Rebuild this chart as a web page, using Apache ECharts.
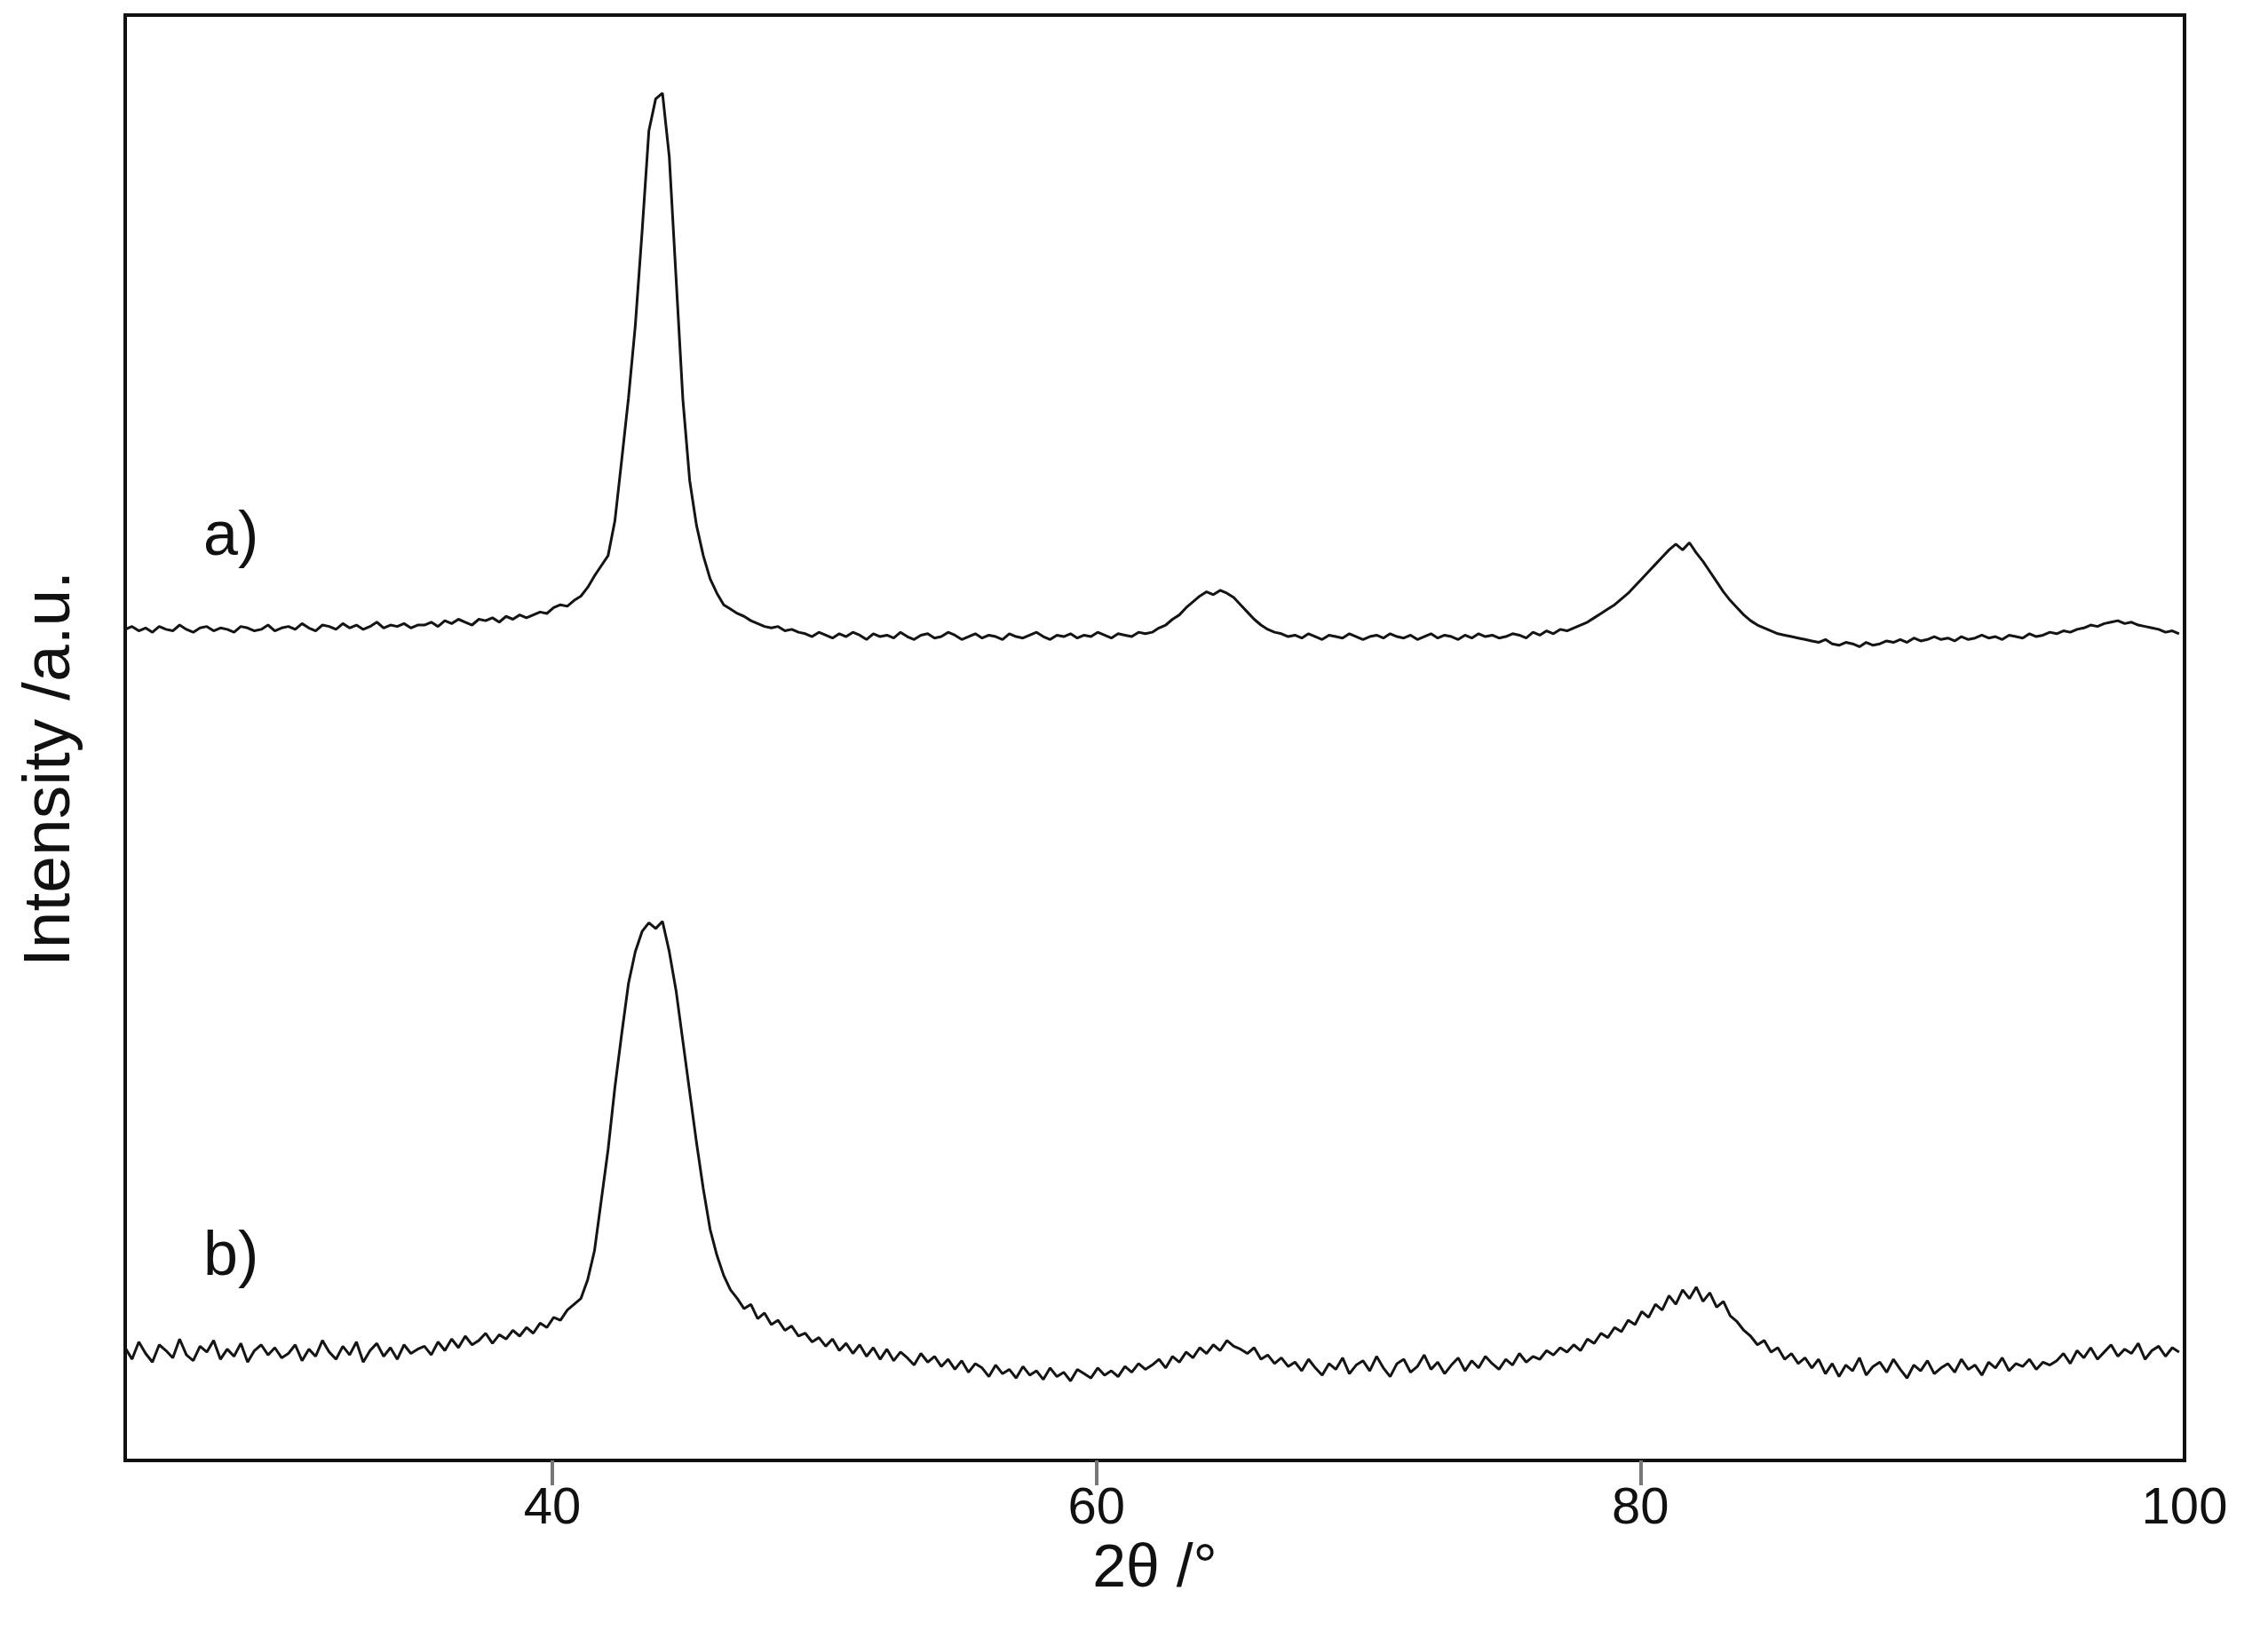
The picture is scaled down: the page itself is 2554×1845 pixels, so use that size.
<!DOCTYPE html>
<html>
<head>
<meta charset="utf-8">
<title>XRD patterns</title>
<script src="https://cdn.jsdelivr.net/npm/echarts@6/dist/echarts.min.js"></script>
<style>
    html, body { margin: 0; padding: 0; background: #fff; }
    #chart { width: 2554px; height: 1845px; }
</style>
</head>
<body>
<div id="chart"></div>
<script>
    // scan settings: 2theta start and step (degrees)
    var thetaStart = 24.3;
    var thetaStep = 0.25;

    // pattern a) intensities (arb. units)
    var intensityA = [
        575,577,574,576,573,577,575,574,578,575,573,576,577,574,576,575,573,577,576,574,575,578,574,576,
        577,575,579,576,574,578,577,575,579,576,578,575,577,580,576,578,577,579,576,578,
        578,580,577,581,579,582,580,578,582,581,583,580,584,582,585,583,
        585,587,586,590,592,591,595,598,
        604,612,619,626,650,692,735,785,850,920,942,946,902,818,734,678,647,626,610,600,592,589,586,584,581,579,577,576,577,574,575,573,
        572,570,573,571,569,572,570,573,571,568,572,570,571,569,573,570,568,571,572,569,570,573,571,568,570,572,569,571,570,568,
        572,570,569,571,573,570,568,571,570,572,569,571,570,573,571,569,572,571,570,573,572,
        573,576,578,582,585,590,594,598,601,599,602,600,597,592,587,582,578,575,573,572,570,
        571,569,572,570,568,571,570,569,572,570,568,570,571,569,572,570,569,571,568,570,572,569,571,570,568,571,569,572,570,571,
        569,570,572,571,569,573,571,574,572,575,574,
        576,578,580,583,586,589,592,596,600,605,610,615,620,625,630,634,630,635,628,622,615,608,601,595,590,585,581,578,576,574,572,571,570,569,568,
        567,566,568,565,564,566,565,563,566,564,565,567,566,568,566,569,567,568,570,568,569,567,570,568,569,571,569,570,568,571,570,569,572,570,571,573,
        572,574,573,575,576,578,577,579,580,581,579,580,578,577,576,575,573,574,572
    ];

    // pattern b) intensities (arb. units)
    var intensityB = [
        78,70,82,74,68,80,76,71,84,73,69,79,75,83,70,77,72,81,68,76,80,73,78,71,
        74,80,69,77,72,83,75,70,79,73,82,68,76,81,72,78,70,80,74,77,
        79,73,82,76,84,78,86,80,83,88,81,87,84,90,86,92,
        88,95,92,99,97,104,108,112,
        125,145,180,215,258,295,330,352,366,372,368,373,352,325,290,255,220,188,160,142,128,118,112,105,108,98,102,94,97,90,93,86,
        88,82,85,79,84,76,81,74,80,72,78,70,77,69,75,71,66,74,68,72,65,70,63,69,61,67,64,58,66,60,
        63,57,65,59,62,56,64,58,61,55,63,60,57,64,59,62,58,65,61,67,63,
        66,70,64,72,68,75,71,78,74,80,76,83,79,77,74,78,70,73,67,71,65,
        68,62,70,64,59,67,63,71,60,66,69,62,72,64,58,67,70,61,65,73,63,68,60,66,71,62,69,64,72,67,
        63,70,66,74,68,72,70,76,73,78,75,
        80,76,84,81,88,85,92,89,97,94,103,99,108,104,114,108,118,112,120,110,116,106,110,100,96,90,86,80,83,75,78,70,74,67,71,
        64,70,60,67,58,66,62,71,59,65,68,61,70,63,57,66,62,69,60,64,67,61,70,63,66,59,68,64,71,62,67,65,70,63,68,66,
        69,74,67,76,71,78,70,75,80,72,77,74,81,70,76,79,72,78,75
    ];

    var xTickValues = [40, 60, 80];
    var xLabelValues = [40, 60, 80, 100];
    var patternLabels = ['a)', 'b)'];

    function toPoints(values) {
        return values.map(function (v, i) {
            return [+(thetaStart + i * thetaStep).toFixed(2), v];
        });
    }

    var chart = echarts.init(document.getElementById('chart'));

    var lineStyle = { color: '#141414', width: 3 };

    var option = {
        animation: false,
        backgroundColor: '#fff',
        grid: {
            left: 141,
            right: 94,
            top: 17,
            bottom: 200,
            show: true,
            borderColor: '#111',
            borderWidth: 4,
            backgroundColor: 'transparent'
        },
        xAxis: {
            type: 'value',
            min: 24.3,
            max: 100,
            axisLine: { show: false },
            splitLine: { show: false },
            axisTick: {
                show: true,
                inside: false,
                length: 28,
                customValues: xTickValues,
                lineStyle: { color: '#777', width: 4 }
            },
            axisLabel: {
                customValues: xLabelValues,
                margin: 26,
                fontFamily: 'Liberation Sans',
                fontSize: 58,
                color: '#111'
            },
            name: '2\u03b8 /\u00b0',
            nameLocation: 'middle',
            nameGap: 89,
            nameTextStyle: {
                fontFamily: 'Liberation Sans',
                fontSize: 68,
                color: '#111'
            }
        },
        yAxis: {
            type: 'value',
            min: 0,
            max: 1000,
            show: false
        },
        graphic: [
            {
                type: 'text',
                x: 57,
                y: 866,
                rotation: Math.PI / 2,
                style: {
                    text: 'Intensity /a.u.',
                    fontFamily: 'Liberation Sans',
                    fontSize: 75,
                    fill: '#111',
                    textAlign: 'center',
                    textVerticalAlign: 'middle'
                }
            },
            {
                type: 'text',
                x: 229,
                y: 606,
                style: {
                    text: patternLabels[0],
                    fontFamily: 'Liberation Sans',
                    fontSize: 70,
                    fill: '#111',
                    textAlign: 'left',
                    textVerticalAlign: 'middle'
                }
            },
            {
                type: 'text',
                x: 229,
                y: 1417,
                style: {
                    text: patternLabels[1],
                    fontFamily: 'Liberation Sans',
                    fontSize: 70,
                    fill: '#111',
                    textAlign: 'left',
                    textVerticalAlign: 'middle'
                }
            }
        ],
        series: [
            {
                name: 'a',
                type: 'line',
                data: toPoints(intensityA),
                symbol: 'none',
                lineStyle: lineStyle
            },
            {
                name: 'b',
                type: 'line',
                data: toPoints(intensityB),
                symbol: 'none',
                lineStyle: lineStyle
            }
        ]
    };

    chart.setOption(option);

    window.addEventListener('resize', function () {
        chart.resize();
    });
</script>
</body>
</html>
